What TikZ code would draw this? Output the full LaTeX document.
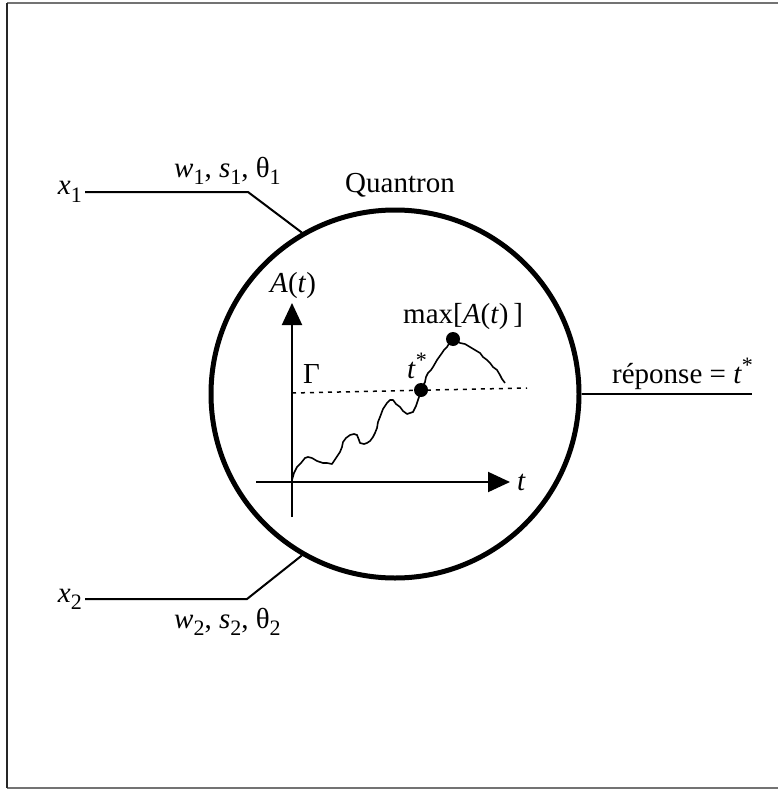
\documentclass[tikz,border=0pt]{standalone}
\usepackage{fontspec}
\setmainfont{Liberation Serif}
\usetikzlibrary{arrows.meta}
\newcommand{\lo}[1]{\raisebox{-0.55ex}{\fontsize{22}{22}\selectfont #1}}
\newcommand{\hi}[1]{\raisebox{0.8ex}{\fontsize{22}{22}\selectfont #1}}
\tikzset{
  lbl/.style={inner sep=0pt, font=\fontsize{29}{33}\selectfont},
  wire/.style={line width=2pt},
  dotpt/.style={circle, fill, inner sep=0pt, minimum size=14pt},
  axis/.style={line width=2pt, -{Triangle[length=22pt,width=20pt]}}
}

\begin{document}
\begin{tikzpicture}[x=1pt,y=-1pt]
  \useasboundingbox (0,0) rectangle (778,789);
  % frame
  \draw[black!55, line width=2pt] (7,3) -- (778,3);
  \draw[black!55, line width=2pt] (7,788) -- (778,788);
  \draw[black!85, line width=2pt] (7,3) -- (7,788);

  % the neuron
  \node[circle, draw, line width=5pt, minimum size=368pt] (q) at (395,394) {};
  \node[lbl, anchor=base] (name) at (400,192) {Quantron};

  % inputs
  \node[lbl, anchor=east, inner xsep=3pt] (x1) at (85,192) {\textit{x}\lo{1}};
  \coordinate (k1) at (248,192);
  \draw[wire] (x1.east) -- (k1) -- (q.120.5);
  \node[lbl, anchor=base west] (p1) at (174,177) {\textit{w}\lo{1}, \textit{s}\lo{1}, θ\lo{1}};

  \node[lbl, anchor=east, inner xsep=3pt] (x2) at (85,599) {\textit{x}\lo{2}};
  \coordinate (k2) at (247,599);
  \draw[wire] (x2.east) -- (k2) -- (q.-120.5);
  \node[lbl, anchor=base west] (p2) at (174,628) {\textit{w}\lo{2}, \textit{s}\lo{2}, θ\lo{2}};

  % output
  \coordinate (rend) at (752,394);
  \draw[wire] (q.east) -- (rend);
  \node[lbl, anchor=base west] (rep) at (612,383) {réponse = \textit{t}\hi{*}};

  % axes
  \coordinate (o) at (292,482);
  \coordinate (ybot) at (292,517);
  \coordinate (ytop) at (292,303);
  \coordinate (xleft) at (256,482);
  \coordinate (xright) at (510,482);
  \draw[axis] (ybot) -- (ytop);
  \draw[axis] (xleft) -- (xright);
  \node[lbl, anchor=base west] (ya) at (270,292) {\textit{A}(\textit{t})};
  \node[lbl, anchor=base west] (xa) at (517,490) {\textit{t}};

  % threshold
  \coordinate (g1) at (292,393);
  \coordinate (g2) at (527,388);
  \draw[line width=1.5pt, dash pattern=on 4pt off 5pt] (g1) -- (g2);
  \node[lbl, anchor=base west] (gam) at (303,383) {Γ};

  % potential
  \node[dotpt] (ts) at (421,390) {};
  \node[dotpt] (mx) at (453,339) {};
  \draw[line width=1.6pt, line join=round] plot coordinates {
      (292,480) (294,473) (297,467) (301,463) (305,458) (308,457) (312,458)
      (317,461) (323,463) (327,463) (332,464) (336,458) (340,452) (342,447)
      (343,442) (346,438) (350,435) (354,434) (357,435) (359,440) (360,443)
      (364,444) (367,443) (370,441) (373,437) (375,433) (377,428) (378,422)
      (380,417) (383,409) (387,403) (390,400) (393,400) (396,404) (400,407)
      (403,411) (407,414) (410,413) (413,412) (416,406) (418,400) (420,394)
      (421,390) (423,386) (425,382) (426,377) (428,373) (431,370) (433,367)
      (437,360) (442,353) (444,350) (447,347) (450,342) (453,339) (457,341)
      (460,343) (465,344) (470,347) (475,350) (480,353) (483,357) (487,360)
      (490,363) (493,367) (497,370) (500,375) (502,379) (505,383)};
  \node[lbl, anchor=base west] (tsl) at (407,378) {\textit{t}\hi{*}};
  \node[lbl, anchor=base west] (mxl) at (403,323) {max[\textit{A}(\textit{t})\,]};
\end{tikzpicture}
\end{document}
